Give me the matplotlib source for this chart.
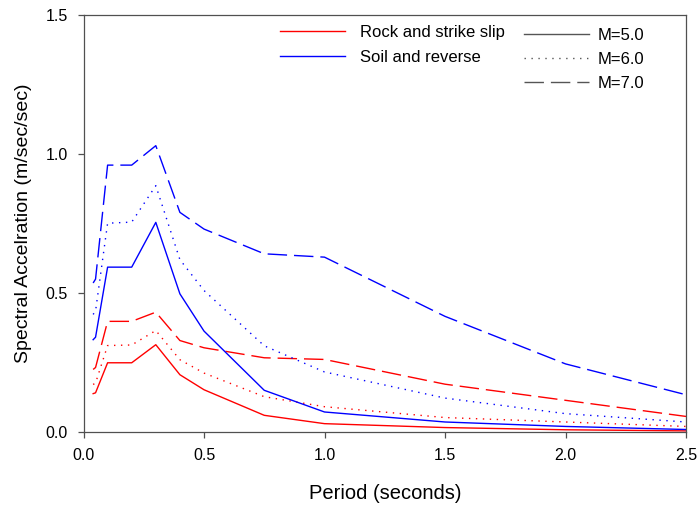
import matplotlib
matplotlib.use("Agg")
import matplotlib.pyplot as plt
from matplotlib.lines import Line2D
from matplotlib.ticker import FormatStrFormatter, MultipleLocator

plt.rcParams['font.family'] = ['Liberation Sans', 'DejaVu Sans']

# Period (s)
period = [0.04, 0.05, 0.1, 0.2, 0.3, 0.4, 0.5, 0.75, 1.0, 1.5, 2.0, 2.5]

# Rock and strike slip
rock_m5 = [0.138, 0.141, 0.249, 0.249, 0.314, 0.206, 0.152, 0.060, 0.030, 0.016, 0.008, 0.004]
rock_m6 = [0.171, 0.176, 0.311, 0.313, 0.365, 0.260, 0.212, 0.127, 0.091, 0.052, 0.036, 0.020]
rock_m7 = [0.225, 0.232, 0.398, 0.398, 0.431, 0.329, 0.303, 0.267, 0.261, 0.172, 0.114, 0.056]

# Soil and reverse
soil_m5 = [0.332, 0.341, 0.593, 0.593, 0.754, 0.497, 0.363, 0.150, 0.072, 0.036, 0.020, 0.009]
soil_m6 = [0.423, 0.435, 0.751, 0.755, 0.886, 0.620, 0.509, 0.310, 0.216, 0.122, 0.066, 0.036]
soil_m7 = [0.536, 0.550, 0.960, 0.960, 1.030, 0.790, 0.730, 0.641, 0.629, 0.416, 0.245, 0.134]

site_labels = ['Rock and strike slip', 'Soil and reverse']
mag_labels = ['M=5.0', 'M=6.0', 'M=7.0']

RED = '#ff0000'
BLUE = '#0000ff'
styles = ['-', (0, (1, 4)), (0, (14, 5))]
lw = 1.0

fig = plt.figure(figsize=(7.0, 5.08), dpi=100)
ax = fig.add_axes([83.5 / 700, 76 / 508, (686 - 83.5) / 700, (432 - 15) / 508])

for vals, ls in zip([rock_m5, rock_m6, rock_m7], styles):
    ax.plot(period, vals, color=RED, lw=lw, linestyle=ls)
for vals, ls in zip([soil_m5, soil_m6, soil_m7], styles):
    ax.plot(period, vals, color=BLUE, lw=lw, linestyle=ls)

ax.set_xlim(0, 2.5)
ax.set_ylim(0, 1.5)
ax.xaxis.set_major_locator(MultipleLocator(0.5))
ax.yaxis.set_major_locator(MultipleLocator(0.5))
ax.xaxis.set_major_formatter(FormatStrFormatter('%.1f'))
ax.yaxis.set_major_formatter(FormatStrFormatter('%.1f'))

spine_c = '#505050'
for s in ax.spines.values():
    s.set_color(spine_c)
    s.set_linewidth(0.9)
ax.tick_params(direction='out', length=4.3, width=0.9, color=spine_c,
               labelsize=11.5, pad=7, top=False, right=False)

ax.set_xlabel('Period (seconds)', fontsize=14.5, labelpad=15)
ax.set_ylabel('Spectral Accelration (m/sec/sec)', fontsize=14, labelpad=10)

# legends: site type (colour) and magnitude (line style)
site_handles = [Line2D([], [], color=c, lw=lw) for c in (RED, BLUE)]
mag_handles = [Line2D([], [], color='#555555', lw=lw, linestyle=ls) for ls in styles]

leg1 = ax.legend(site_handles, site_labels, loc='upper left', frameon=False,
                 bbox_to_anchor=(280 / 700, 1 - 25 / 508), bbox_transform=fig.transFigure,
                 fontsize=12, handlelength=3.9, handletextpad=0.9,
                 labelspacing=0.62, borderpad=0, borderaxespad=0)
ax.add_artist(leg1)
ax.legend(mag_handles, mag_labels, loc='upper left', frameon=False,
          bbox_to_anchor=(524 / 700, 1 - 28 / 508), bbox_transform=fig.transFigure,
          fontsize=12, handlelength=3.9, handletextpad=0.5,
          labelspacing=0.55, borderpad=0, borderaxespad=0)

fig.savefig('out.png', dpi=100)
